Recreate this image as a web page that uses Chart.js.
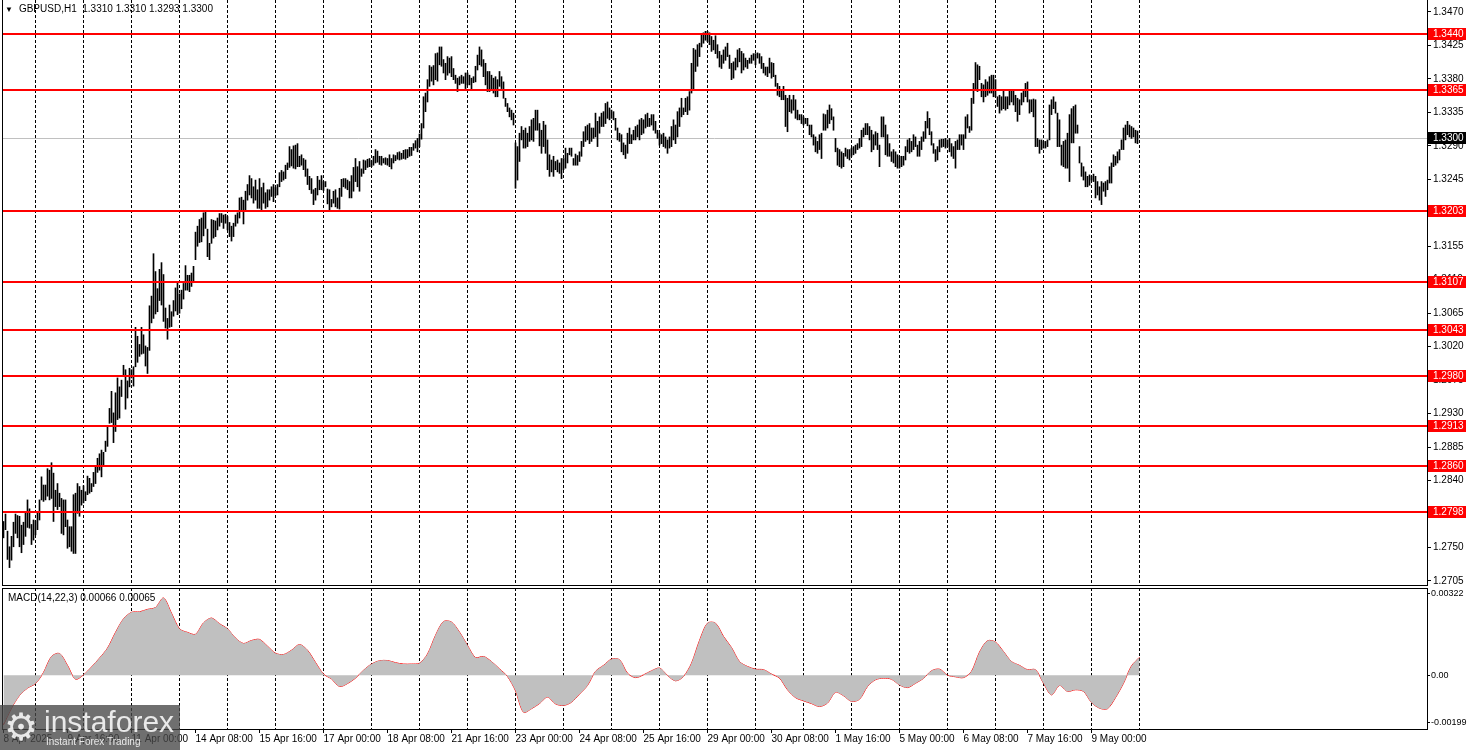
<!DOCTYPE html>
<html lang="en">
<head>
<meta charset="utf-8">
<title>GBPUSD,H1</title>
<script src="https://cdn.jsdelivr.net/npm/chart.js@4/dist/chart.umd.min.js"></script>
<style>
  body { margin: 0; background: #fff; }
  .wrap { position: relative; width: 1468px; height: 750px; overflow: hidden; font-family: "Liberation Sans", Arial, sans-serif; color: #000; }
  #priceChart { position: absolute; left: 0; top: 0; }
  #macdChart { position: absolute; left: 0; top: 586px; }
  .caption { position: absolute; font-size: 10px; white-space: pre; }
  .chart-title { left: 5px; top: 3px; }
  .chart-title .arrow { font-size: 8px; margin-right: 6px; }
  .macd-title { left: 8px; top: 592px; }
  .logo { position: absolute; left: 0; top: 705px; width: 180px; height: 45px; background: rgba(70, 70, 70, 0.78); color: rgba(255, 255, 255, 0.85); }
  .logo .gear { position: absolute; left: 4px; top: 0; font-size: 38px; line-height: 44px; }
  .logo .brand { position: absolute; left: 44px; top: 1px; font-size: 30px; line-height: 32px; }
  .logo .slogan { position: absolute; left: 46px; top: 31px; font-size: 10px; }
</style>
</head>
<body>
<div class="wrap">
  <canvas id="priceChart" width="1468" height="588"></canvas>
  <canvas id="macdChart" width="1468" height="164"></canvas>
  <div class="caption chart-title"><span class="arrow">▼</span>GBPUSD,H1  1.3310 1.3310 1.3293 1.3300</div>
  <div class="caption macd-title">MACD(14,22,3) 0.00066 0.00065</div>
  <div class="logo"><span class="gear">⚙</span><span class="brand">instaforex</span><span class="slogan">Instant Forex Trading</span></div>
</div>

<script>
// hourly bars, [low, high], from 8 Apr 08:00 on
const hourlyRanges = [
  [1.2763,1.2785],[1.2774,1.2795],[1.2734,1.2772],[1.2723,1.2751],[1.2733,1.2765],[1.2751,1.2784],[1.2769,1.2795],[1.2763,1.2793],[1.2751,1.2792],[1.2743,1.2780],
  [1.2754,1.2784],[1.2765,1.2796],[1.2777,1.2814],[1.2776,1.2802],[1.2754,1.2781],[1.2760,1.2787],[1.2767,1.2786],[1.2774,1.2796],[1.2787,1.2814],[1.2814,1.2845],
  [1.2812,1.2834],[1.2814,1.2834],[1.2819,1.2856],[1.2814,1.2854],[1.2816,1.2864],[1.2785,1.2850],[1.2805,1.2827],[1.2801,1.2836],[1.2805,1.2823],[1.2769,1.2816],
  [1.2767,1.2814],[1.2778,1.2814],[1.2749,1.2787],[1.2751,1.2778],[1.2745,1.2778],[1.2742,1.2821],[1.2742,1.2823],[1.2796,1.2836],[1.2792,1.2832],[1.2807,1.2827],
  [1.2810,1.2833],[1.2813,1.2825],[1.2821,1.2846],[1.2823,1.2843],[1.2825,1.2836],[1.2832,1.2851],[1.2836,1.2860],[1.2851,1.2870],[1.2854,1.2876],[1.2845,1.2881],
  [1.2859,1.2878],[1.2879,1.2893],[1.2886,1.2913],[1.2917,1.2937],[1.2918,1.2960],[1.2891,1.2931],[1.2906,1.2958],[1.2922,1.2978],[1.2924,1.2966],[1.2953,1.2975],
  [1.2980,1.2995],[1.2936,1.2989],[1.2951,1.2974],[1.2966,1.2991],[1.2978,1.2989],[1.2967,1.2993],[1.2993,1.3046],[1.2999,1.3034],[1.3007,1.3023],[1.3010,1.3046],
  [1.3011,1.3036],[1.2994,1.3021],[1.2984,1.3019],[1.3015,1.3075],[1.3052,1.3088],[1.3058,1.3145],[1.3064,1.3121],[1.3067,1.3098],[1.3082,1.3124],[1.3076,1.3133],
  [1.3054,1.3117],[1.3045,1.3072],[1.3030,1.3058],[1.3046,1.3076],[1.3047,1.3067],[1.3061,1.3082],[1.3068,1.3099],[1.3063,1.3106],[1.3065,1.3091],[1.3071,1.3096],
  [1.3084,1.3105],[1.3096,1.3129],[1.3096,1.3116],[1.3094,1.3116],[1.3101,1.3119],[1.3106,1.3128],
  [1.3137,1.3174],[1.3155,1.3182],[1.3160,1.3191],[1.3161,1.3193],[1.3169,1.3200],[1.3179,1.3202],[1.3141,1.3178],[1.3137,1.3159],[1.3159,1.3191],[1.3166,1.3190],
  [1.3168,1.3189],[1.3177,1.3193],[1.3182,1.3199],[1.3187,1.3199],[1.3179,1.3197],[1.3186,1.3198],[1.3177,1.3195],[1.3168,1.3187],[1.3162,1.3182],[1.3168,1.3186],
  [1.3182,1.3197],[1.3186,1.3200],[1.3193,1.3220],[1.3202,1.3221],[1.3185,1.3217],[1.3204,1.3229],[1.3217,1.3238],[1.3224,1.3250],[1.3220,1.3246],[1.3213,1.3235],
  [1.3217,1.3244],[1.3206,1.3231],[1.3206,1.3246],[1.3204,1.3234],[1.3213,1.3240],[1.3206,1.3227],[1.3208,1.3231],[1.3217,1.3231],[1.3222,1.3235],[1.3215,1.3238],
  [1.3223,1.3234],[1.3224,1.3238],[1.3235,1.3254],[1.3242,1.3257],[1.3244,1.3255],[1.3246,1.3264],[1.3258,1.3267],[1.3261,1.3289],[1.3263,1.3285],[1.3260,1.3290],
  [1.3259,1.3291],[1.3262,1.3293],[1.3262,1.3276],[1.3264,1.3278],[1.3258,1.3273],[1.3249,1.3271],[1.3238,1.3259],[1.3231,1.3249],[1.3226,1.3246],[1.3211,1.3231],
  [1.3217,1.3233],[1.3224,1.3249],[1.3231,1.3244],[1.3231,1.3250],[1.3230,1.3242],[1.3235,1.3242],[1.3212,1.3232],[1.3202,1.3231],[1.3208,1.3218],[1.3213,1.3229],
  [1.3208,1.3231],[1.3206,1.3220],[1.3205,1.3233],[1.3222,1.3245],[1.3235,1.3246],[1.3233,1.3246],[1.3231,1.3244],[1.3220,1.3242],[1.3220,1.3250],[1.3229,1.3261],
  [1.3242,1.3273],[1.3235,1.3262],[1.3229,1.3269],[1.3249,1.3259],[1.3253,1.3271],[1.3258,1.3270],[1.3261,1.3272],[1.3262,1.3273],[1.3262,1.3270],[1.3264,1.3276],
  [1.3267,1.3285],[1.3268,1.3283],[1.3265,1.3276],[1.3264,1.3276],[1.3267,1.3273],[1.3265,1.3274],[1.3264,1.3273],[1.3262,1.3278],[1.3259,1.3273],[1.3267,1.3278],
  [1.3270,1.3277],[1.3272,1.3281],[1.3271,1.3282],[1.3272,1.3280],[1.3273,1.3284],[1.3272,1.3285],[1.3274,1.3285],[1.3276,1.3288],[1.3277,1.3288],[1.3284,1.3293],
  [1.3287,1.3297],[1.3282,1.3300],[1.3289,1.3306],[1.3299,1.3320],[1.3314,1.3356],[1.3336,1.3361],[1.3349,1.3379],[1.3370,1.3398],[1.3377,1.3396],[1.3372,1.3398],
  [1.3379,1.3414],[1.3377,1.3415],
  [1.3399,1.3423],[1.3397,1.3423],[1.3388,1.3406],[1.3379,1.3401],[1.3385,1.3410],[1.3388,1.3408],[1.3383,1.3410],[1.3379,1.3394],[1.3374,1.3385],[1.3363,1.3381],
  [1.3372,1.3383],[1.3374,1.3385],[1.3374,1.3383],[1.3367,1.3388],[1.3372,1.3388],[1.3372,1.3385],[1.3365,1.3381],[1.3375,1.3383],[1.3376,1.3397],[1.3392,1.3412],
  [1.3399,1.3423],[1.3397,1.3419],[1.3383,1.3406],[1.3372,1.3401],[1.3363,1.3390],[1.3363,1.3390],[1.3365,1.3385],[1.3361,1.3381],[1.3356,1.3383],[1.3356,1.3379],
  [1.3370,1.3390],[1.3367,1.3383],[1.3354,1.3376],[1.3343,1.3354],[1.3336,1.3347],[1.3329,1.3341],[1.3325,1.3338],[1.3318,1.3334],[1.3233,1.3294],[1.3244,1.3289],
  [1.3269,1.3307],[1.3298,1.3316],[1.3287,1.3311],[1.3287,1.3314],[1.3289,1.3307],[1.3296,1.3316],[1.3298,1.3325],[1.3296,1.3327],[1.3311,1.3338],[1.3311,1.3338],
  [1.3290,1.3320],[1.3280,1.3311],[1.3289,1.3323],[1.3280,1.3318],[1.3258,1.3298],[1.3249,1.3278],[1.3255,1.3271],[1.3249,1.3276],[1.3258,1.3269],[1.3255,1.3271],
  [1.3253,1.3267],[1.3246,1.3273],[1.3258,1.3273],[1.3260,1.3287],[1.3267,1.3280],[1.3278,1.3287],[1.3276,1.3287],[1.3264,1.3273],[1.3264,1.3279],[1.3264,1.3277],
  [1.3269,1.3282],[1.3276,1.3296],[1.3289,1.3309],[1.3296,1.3316],[1.3298,1.3318],[1.3293,1.3320],[1.3296,1.3314],[1.3300,1.3314],[1.3302,1.3334],[1.3289,1.3323],
  [1.3307,1.3329],[1.3316,1.3334],[1.3316,1.3336],[1.3320,1.3347],[1.3327,1.3349],[1.3325,1.3341],[1.3327,1.3338],[1.3325,1.3336],[1.3311,1.3327],[1.3298,1.3314],
  [1.3296,1.3307],[1.3282,1.3305],[1.3278,1.3294],[1.3273,1.3291],[1.3280,1.3307],[1.3293,1.3314],[1.3293,1.3305],[1.3298,1.3311],[1.3298,1.3316],[1.3302,1.3318],
  [1.3298,1.3325],[1.3305,1.3327],[1.3307,1.3325],[1.3314,1.3332],[1.3316,1.3334],[1.3316,1.3327],[1.3318,1.3332],[1.3311,1.3332],[1.3307,1.3323],[1.3300,1.3311],
  [1.3291,1.3307],[1.3293,1.3305],[1.3289,1.3307],[1.3287,1.3302],[1.3280,1.3298],[1.3287,1.3302],[1.3289,1.3316],[1.3298,1.3325],[1.3293,1.3318],[1.3302,1.3336],
  [1.3316,1.3341],[1.3329,1.3354],[1.3332,1.3341],[1.3336,1.3354],[1.3332,1.3356],[1.3338,1.3363],[1.3361,1.3401],[1.3365,1.3421],[1.3390,1.3419],[1.3397,1.3426],
  [1.3410,1.3428],[1.3423,1.3440],[1.3428,1.3442],[1.3432,1.3444],[1.3430,1.3444],[1.3426,1.3442],[1.3417,1.3437],[1.3419,1.3432],[1.3414,1.3438],[1.3408,1.3426],
  [1.3396,1.3417],[1.3394,1.3412],[1.3401,1.3419],[1.3405,1.3423],[1.3410,1.3428],[1.3394,1.3412],[1.3379,1.3401],[1.3381,1.3403],[1.3392,1.3408],[1.3396,1.3419],
  [1.3403,1.3421],[1.3388,1.3417],[1.3392,1.3414],[1.3396,1.3408],[1.3394,1.3405],[1.3401,1.3408],[1.3401,1.3412],[1.3405,1.3414],[1.3399,1.3414],[1.3408,1.3415],
  [1.3401,1.3414],[1.3394,1.3410],[1.3388,1.3401],[1.3385,1.3396],[1.3383,1.3396],[1.3388,1.3408],[1.3381,1.3402],[1.3383,1.3401],[1.3370,1.3385],[1.3358,1.3374],
  [1.3356,1.3370],[1.3352,1.3365],[1.3352,1.3370],[1.3316,1.3358],[1.3309,1.3354],[1.3336,1.3358],[1.3334,1.3352],[1.3338,1.3358],[1.3327,1.3352],[1.3325,1.3338],
  [1.3325,1.3332],[1.3320,1.3332],[1.3318,1.3329],[1.3320,1.3327],[1.3317,1.3327],[1.3305,1.3318],[1.3302,1.3318],[1.3291,1.3305],[1.3282,1.3302],[1.3280,1.3296],
  [1.3285,1.3305],[1.3273,1.3307],[1.3311,1.3333],[1.3311,1.3332],[1.3314,1.3338],[1.3320,1.3345],[1.3325,1.3340],[1.3311,1.3329],[1.3282,1.3300],[1.3264,1.3287],
  [1.3262,1.3285],[1.3260,1.3282],[1.3262,1.3280],[1.3276,1.3287],[1.3273,1.3285],[1.3271,1.3285],[1.3276,1.3287],[1.3278,1.3289],[1.3280,1.3291],[1.3285,1.3293],
  [1.3287,1.3300],[1.3289,1.3311],[1.3302,1.3314],[1.3305,1.3320],[1.3305,1.3320],[1.3298,1.3316],[1.3282,1.3311],[1.3285,1.3305],[1.3291,1.3309],[1.3285,1.3307],
  [1.3262,1.3291],[1.3302,1.3329],[1.3302,1.3329],[1.3278,1.3318],[1.3276,1.3305],[1.3276,1.3293],[1.3269,1.3282],[1.3267,1.3285],[1.3262,1.3282],[1.3260,1.3278],
  [1.3260,1.3276],[1.3262,1.3276],[1.3264,1.3276],[1.3271,1.3289],[1.3282,1.3298],[1.3280,1.3300],[1.3282,1.3296],[1.3285,1.3305],[1.3289,1.3302],[1.3276,1.3291],
  [1.3276,1.3296],[1.3285,1.3302],[1.3296,1.3309],[1.3300,1.3323],[1.3314,1.3336],[1.3305,1.3327],[1.3291,1.3309],[1.3280,1.3293],[1.3269,1.3285],[1.3271,1.3289],
  [1.3282,1.3298],[1.3288,1.3299],[1.3289,1.3299],[1.3287,1.3300],[1.3289,1.3298],[1.3282,1.3300],[1.3276,1.3293],[1.3273,1.3289],[1.3260,1.3296],[1.3285,1.3298],
  [1.3285,1.3305],[1.3291,1.3305],[1.3285,1.3305],[1.3300,1.3329],[1.3314,1.3332],[1.3308,1.3316],[1.3311,1.3354],[1.3347,1.3374],[1.3365,1.3402],[1.3363,1.3399],
  [1.3379,1.3397],[1.3356,1.3374],[1.3349,1.3372],[1.3356,1.3379],[1.3358,1.3376],[1.3361,1.3383],[1.3361,1.3385],[1.3356,1.3385],[1.3356,1.3379],[1.3343,1.3356],
  [1.3334,1.3358],[1.3338,1.3356],[1.3340,1.3365],[1.3338,1.3356],[1.3340,1.3356],[1.3345,1.3365],[1.3349,1.3365],[1.3345,1.3366],[1.3336,1.3358],[1.3323,1.3354],
  [1.3332,1.3352],[1.3345,1.3361],[1.3349,1.3365],[1.3356,1.3374],[1.3349,1.3376],[1.3334,1.3352],[1.3336,1.3352],[1.3329,1.3353],[1.3289,1.3352],[1.3289,1.3300],
  [1.3280,1.3298],[1.3285,1.3298],[1.3287,1.3296],[1.3287,1.3296],[1.3289,1.3298],[1.3298,1.3345],[1.3332,1.3352],[1.3340,1.3356],[1.3334,1.3349],[1.3289,1.3334],
  [1.3289,1.3325],[1.3264,1.3291],[1.3262,1.3296],[1.3260,1.3298],[1.3260,1.3307],[1.3242,1.3332],[1.3294,1.3340],[1.3294,1.3343],[1.3307,1.3345],[1.3307,1.3318],
  [1.3267,1.3289],[1.3249,1.3267],[1.3244,1.3262],[1.3235,1.3255],[1.3235,1.3249],[1.3237,1.3251],[1.3244,1.3249],[1.3242,1.3252],[1.3220,1.3249],[1.3224,1.3242],
  [1.3217,1.3235],[1.3211,1.3242],[1.3229,1.3240],[1.3222,1.3242],[1.3231,1.3244],[1.3240,1.3262],[1.3240,1.3267],[1.3262,1.3278],[1.3264,1.3276],[1.3267,1.3282],
  [1.3271,1.3285],[1.3285,1.3298],[1.3285,1.3314],[1.3298,1.3318],[1.3305,1.3323],[1.3302,1.3318],[1.3300,1.3316],[1.3302,1.3314],[1.3294,1.3311],[1.3293,1.3310]
];

// MACD(14,22,3), one reading every 4 bars
const macdStep = 4;
const macdValues = [
  -0.00183,-0.00122,-0.00075,-0.00048,-0.00031,0.00010,0.00069,0.00080,0.00036,-0.00015,
  0.00001,0.00030,0.00063,0.00100,0.00158,0.00208,0.00232,0.00234,0.00243,0.00250,
  0.00285,0.00229,0.00171,0.00158,0.00151,0.00193,0.00211,0.00190,0.00171,0.00137,
  0.00117,0.00128,0.00132,0.00107,0.00081,0.00076,0.00092,0.00113,0.00092,0.00047,
  0.00004,-0.00014,-0.00042,-0.00031,-0.00011,0.00018,0.00041,0.00053,0.00054,0.00046,
  0.00041,0.00041,0.00044,0.00078,0.00147,0.00198,0.00196,0.00159,0.00110,0.00065,
  0.00069,0.00050,0.00023,-0.00005,-0.00058,-0.00137,-0.00124,-0.00105,-0.00081,-0.00106,
  -0.00112,-0.00100,-0.00070,-0.00038,0.00014,0.00036,0.00059,0.00057,0.00007,-0.00009,
  0.00001,0.00016,0.00026,-0.00001,-0.00021,-0.00005,0.00044,0.00128,0.00192,0.00192,
  0.00143,0.00102,0.00050,0.00032,0.00022,0.00020,0.00004,-0.00011,-0.00054,-0.00083,
  -0.00095,-0.00105,-0.00116,-0.00103,-0.00063,-0.00076,-0.00097,-0.00089,-0.00042,-0.00017,
  -0.00011,-0.00015,-0.00036,-0.00046,-0.00030,-0.00012,0.00016,0.00022,0.00000,-0.00006,
  -0.00009,0.00014,0.00085,0.00127,0.00122,0.00087,0.00050,0.00036,0.00020,0.00020,
  -0.00030,-0.00073,-0.00038,-0.00060,-0.00054,-0.00060,-0.00101,-0.00122,-0.00124,-0.00083,
  -0.00030,0.00034,0.00066
];

const levels = [1.3440, 1.3365, 1.3203, 1.3107, 1.3043, 1.2980, 1.2913, 1.2860, 1.2798];
const lastPrice = 1.3300;

const priceTicks = [1.2705, 1.2750, 1.2795, 1.2840, 1.2885, 1.2930, 1.2975, 1.3020, 1.3065,
  1.3110, 1.3155, 1.3200, 1.3245, 1.3290, 1.3335, 1.3380, 1.3425, 1.3470];
const priceMin = 1.26996, priceMax = 1.34861;

const macdMin = -0.00199, macdMax = 0.00322;
const macdTickLabels = ['-0.00199', '0.00', '0.00322'];
const macdTickAt = [-0.00176, 0, 0.00300]; // MT4 keeps the edge labels inside the panel

const timeLabels = ['8 Apr 2025', '9 Apr 16:00', '11 Apr 00:00', '14 Apr 08:00', '15 Apr 16:00',
  '17 Apr 00:00', '18 Apr 08:00', '21 Apr 16:00', '23 Apr 00:00', '24 Apr 08:00', '25 Apr 16:00',
  '29 Apr 00:00', '30 Apr 08:00', '1 May 16:00', '5 May 00:00', '6 May 08:00', '7 May 16:00', '9 May 00:00'];
const labelEvery = 32;     // bars between time labels
const firstMidnight = 16;  // bar of 9 Apr 00:00
const dayCount = 24;

// visible window: 712 hourly slots, chart scrolled so the last bar sits left of the shift
const xMin = -0.75, xMax = 711.75;

const dayStarts = Array.from({ length: dayCount }, (_, k) => firstMidnight + 24 * k);

Chart.defaults.font.family = '"Liberation Sans", Arial, sans-serif';
Chart.defaults.font.size = 10;
Chart.defaults.color = '#000';

// no extra room for half labels at the panel edges
function fixWidth(s) {
  s.width = 41;
  s.paddingTop = 0;
  s.paddingBottom = 0;
}

// black box round each panel
const frame = {
  id: 'frame',
  afterDraw(chart, args, opts) {
    const { ctx, chartArea: a } = chart;
    const top = a.top - (opts.openTop ? 1 : 0);
    ctx.save();
    ctx.strokeStyle = '#000';
    ctx.lineWidth = 1;
    ctx.strokeRect(a.left + 0.5, top + 0.5, a.right - a.left, a.bottom - top);
    ctx.restore();
  }
};

function priceTag(ctx, x, y, text, bg) {
  const cy = Math.round(y);
  ctx.fillStyle = bg;
  ctx.fillRect(x, cy - 6, 38, 12);
  ctx.fillStyle = '#fff';
  ctx.textAlign = 'left';
  ctx.textBaseline = 'middle';
  ctx.fillText(text, x + 5, cy + 0.5);
}

// support / resistance lines and the bid line
const levelLines = {
  id: 'levelLines',
  beforeDatasetsDraw(chart) {
    const { ctx, chartArea: a, scales: { y } } = chart;
    const py = Math.round(y.getPixelForValue(lastPrice)) + 0.5;
    ctx.save();
    ctx.strokeStyle = '#c0c0c0';
    ctx.lineWidth = 1;
    ctx.beginPath();
    ctx.moveTo(a.left, py);
    ctx.lineTo(a.right, py);
    ctx.stroke();
    ctx.restore();
  },
  afterDatasetsDraw(chart) {
    const { ctx, chartArea: a, scales: { y } } = chart;
    ctx.save();
    ctx.strokeStyle = '#ff0000';
    ctx.lineWidth = 2;
    levels.forEach((v) => {
      const py = Math.round(y.getPixelForValue(v));
      ctx.beginPath();
      ctx.moveTo(a.left, py);
      ctx.lineTo(a.right, py);
      ctx.stroke();
    });
    ctx.restore();
  },
  afterDraw(chart) {
    const { ctx, chartArea: a, scales: { y } } = chart;
    ctx.save();
    ctx.font = '10px "Liberation Sans", Arial, sans-serif';
    levels.forEach((v) => priceTag(ctx, a.right + 1, y.getPixelForValue(v), v.toFixed(4), '#ff0000'));
    priceTag(ctx, a.right + 1, y.getPixelForValue(lastPrice), lastPrice.toFixed(4), '#000');
    ctx.restore();
  }
};

const dayGrid = {
  type: 'linear',
  min: xMin,
  max: xMax,
  offset: false,
  afterBuildTicks: (s) => { s.ticks = dayStarts.map((v) => ({ value: v })); },
  afterFit: (s) => { s.height = 0; s.paddingLeft = 0; s.paddingRight = 0; },
  ticks: { display: false },
  grid: { color: '#000', lineWidth: 1, drawTicks: false, offset: false },
  border: { display: false, dash: [3, 2] }
};

new Chart(document.getElementById('priceChart'), {
  type: 'bar',
  data: {
    datasets: [{
      data: hourlyRanges.map((r, i) => ({ x: i, y: r })),
      backgroundColor: '#000',
      borderWidth: 0,
      barThickness: 1
    }]
  },
  options: {
    responsive: false,
    animation: false,
    events: [],
    layout: { padding: { left: 2, top: 0, right: 0, bottom: 3 } },
    plugins: {
      legend: { display: false },
      tooltip: { enabled: false },
      frame: { openTop: true }
    },
    scales: {
      x: dayGrid,
      y: {
        position: 'right',
        min: priceMin,
        max: priceMax,
        beginAtZero: false,
        afterBuildTicks: (s) => { s.ticks = priceTicks.map((v) => ({ value: v })); },
        afterFit: fixWidth,
        ticks: { padding: 2, autoSkip: false, callback: (v) => Number(v).toFixed(4) },
        grid: { drawOnChartArea: false, color: '#000', tickLength: 4 },
        border: { color: '#000' }
      }
    }
  },
  plugins: [levelLines, frame]
});

const macdPoints = macdValues.map((v, k) => ({ x: k * macdStep, y: v }));

new Chart(document.getElementById('macdChart'), {
  type: 'line',
  data: {
    datasets: [
      { data: macdPoints, fill: 'origin', backgroundColor: '#c0c0c0', borderWidth: 0, pointRadius: 0, tension: 0.3 },
      { data: macdPoints, fill: false, borderColor: '#ff0000', borderWidth: 1, pointRadius: 0, tension: 0.3 }
    ]
  },
  options: {
    responsive: false,
    animation: false,
    events: [],
    layout: { padding: { left: 2, top: 2, right: 0, bottom: 0 } },
    plugins: {
      legend: { display: false },
      tooltip: { enabled: false }
    },
    scales: {
      x: dayGrid,
      t: {
        type: 'linear',
        position: 'bottom',
        min: xMin,
        max: xMax,
        offset: false,
        afterBuildTicks: (s) => { s.ticks = timeLabels.map((_, k) => ({ value: k * labelEvery })); },
        afterFit: (s) => { s.height = 21; s.paddingLeft = 0; s.paddingRight = 0; },
        ticks: {
          align: 'start',
          autoSkip: false,
          maxRotation: 0,
          minRotation: 0,
          padding: 0,
          callback: (v, i) => timeLabels[i]
        },
        grid: { drawOnChartArea: false, color: '#000', tickLength: 4 },
        border: { color: '#000' }
      },
      y: {
        position: 'right',
        min: macdMin,
        max: macdMax,
        afterBuildTicks: (s) => { s.ticks = macdTickAt.map((v) => ({ value: v })); },
        afterFit: fixWidth,
        ticks: { padding: 1, autoSkip: false, font: { size: 9 }, callback: (v, i) => macdTickLabels[i] },
        grid: { drawOnChartArea: false, color: '#000', tickLength: 3 },
        border: { color: '#000' }
      }
    }
  },
  plugins: [frame]
});
</script>
</body>
</html>
